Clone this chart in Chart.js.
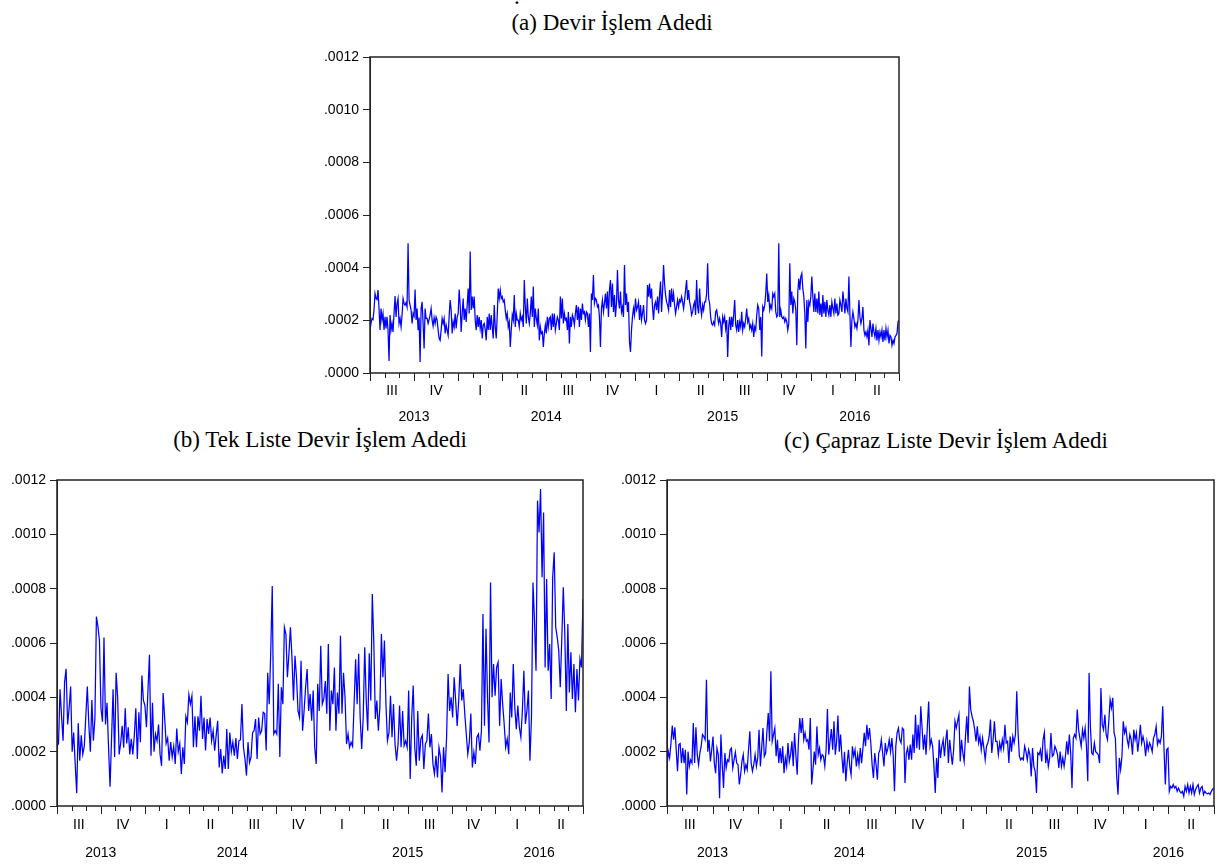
<!DOCTYPE html>
<html>
<head>
<meta charset="utf-8">
<script src="https://cdn.jsdelivr.net/npm/chart.js@4.4.1/dist/chart.umd.min.js"></script>
<style>
body { margin: 0; background: #fff; width: 1217px; height: 866px; position: relative; overflow: hidden; }
.box { position: absolute; }
.title { position: absolute; font-family: "Liberation Serif", "Times New Roman", serif; font-size: 23px; line-height: 23px; white-space: nowrap; transform: translateX(-50%); color: #000; }
</style>
</head>
<body>
<div class="title" style="left:514px;top:-15px;transform:none">.</div>
<div class="title" style="left:612px;top:11px">(a) Devir İşlem Adedi</div>
<div class="title" style="left:320px;top:428px">(b) Tek Liste Devir İşlem Adedi</div>
<div class="title" style="left:946px;top:429px">(c) Çapraz Liste Devir İşlem Adedi</div>

<div class="box" style="left:300px;top:40px;width:610px;height:390px"><canvas id="chartA"></canvas></div>
<div class="box" style="left:0px;top:462px;width:595px;height:410px"><canvas id="chartB"></canvas></div>
<div class="box" style="left:609px;top:462px;width:608px;height:410px"><canvas id="chartC"></canvas></div>

<script>
// values are in units of 0.0001, daily-ish readings from Jul 2013 to Jun 2016
var SCALE = 1e-4;

var quarterLabels = ['III', 'IV', 'I', 'II', 'III', 'IV', 'I', 'II', 'III', 'IV', 'I', 'II'];
var quarterYears = [2013, 2013, 2014, 2014, 2014, 2014, 2015, 2015, 2015, 2015, 2016, 2016];
var yearLabels = ['2013', '2014', '2015', '2016'];
var yTicks = [0, 0.0002, 0.0004, 0.0006, 0.0008, 0.0010, 0.0012];

// (a) Devir İşlem Adedi
var devirAdedi = [
  1.63,1.88,2.07,2.03,2.39,3.02,2.83,2.79,3.15,2.45,1.63,2.45,2.01,2.26,1.63,2.13,1.69,2.13,1.63,0.46,2.2,1.63,1.88,1.56,2.26,2.92,2.13,2.64,2.83,1.88,
  2.07,1.75,2.2,2.83,2.64,2.58,2.67,2.51,4.93,2.77,2.58,2.39,1.88,2.26,2.16,3.17,2.01,2.45,1.63,2.11,0.42,2.45,2.7,1.88,0.93,2.45,2.07,2.07,1.88,2.03,
  2.2,2.45,2.01,1.78,2.1,1.88,2.13,2.01,1.63,1.31,1.24,1.63,2.07,1.88,2.07,1.5,1.82,1.63,1.43,2.16,2.77,2.39,1.5,1.94,1.75,2.26,1.69,2.13,2.26,3.17,
  2.58,1.56,2.26,2.83,2.01,2.45,1.94,2.58,3.21,2.26,4.61,2.39,2.9,2.45,2.9,2.01,1.63,2.2,1.75,2.13,1.69,2.01,1.31,1.82,1.88,1.65,1.24,2.13,1.63,2.26,
  1.63,2.2,1.75,1.31,2.58,1.75,1.31,2.2,3.21,2.83,3.15,2.83,2.9,2.7,2.77,2.39,2.07,2.26,1.75,1.94,0.99,1.63,2.2,2.01,2.96,1.75,2.26,2.01,2.01,1.75,
  2.26,2.01,2.13,1.75,3.53,2.51,1.88,2.83,2.13,1.88,2.26,2.9,2.13,3.28,1.75,2.45,2.07,1.82,2.45,1.24,1.75,1.5,1.56,0.99,1.5,1.82,1.5,2.13,1.75,2.07,
  2.13,1.63,2.26,1.75,2.26,1.63,1.88,2.13,2.01,1.63,2.9,2.07,2.83,1.88,2.26,2.01,2.07,1.63,2.32,1.12,2.13,1.75,2.2,2.07,1.82,2.26,2.58,2.01,2.51,1.75,
  2.45,2.01,2.64,2.26,2.32,2.01,2.32,2.26,1.75,2.26,0.8,3.02,2.77,3.72,2.64,2.83,2.77,2.51,2.58,2.13,0.99,2.45,2.77,2.32,2.64,3.02,2.45,3.09,2.13,3.15,
  3.53,2.51,3.4,2.32,2.96,2.13,2.64,3.91,2.77,2.45,3.09,2.32,2.51,2.13,4.1,2.58,3.02,2.32,2.7,1.18,0.8,1.63,2.13,2.45,2.2,2.83,2.39,2.51,2.7,2.01,
  2.58,2.01,2.26,2.58,2.01,1.88,2.01,3.34,2.9,3.4,2.83,3.21,2.51,2.01,2.58,2.7,2.39,2.9,2.26,2.96,3.47,2.32,3.09,4.1,3.4,2.96,2.7,2.58,2.39,3.15,
  2.51,3.21,2.7,3.02,2.58,2.26,2.51,2.77,2.51,2.77,2.7,2.9,2.7,2.45,2.77,3.15,3.53,2.77,3.15,2.7,2.51,2.2,2.32,2.58,2.7,2.2,3.53,2.51,2.26,3.21,
  2.51,2.2,2.58,2.39,2.7,2.7,3.02,4.17,2.83,2.64,2.13,1.88,1.82,1.94,1.82,2.32,2.39,2.13,1.88,2.07,1.88,1.37,2.13,1.94,2.13,1.69,2.01,0.61,1.75,2.13,
  1.63,2.13,1.75,2.2,2.77,1.82,1.63,2.01,1.56,1.94,1.75,2.32,1.63,1.88,1.75,2.07,2.45,1.94,2.07,1.69,1.82,1.63,1.88,1.37,1.75,1.63,2.2,2.58,2.45,1.63,
  2.13,0.63,2.51,2.39,2.58,3.02,3.78,2.7,2.96,2.39,2.58,2.45,3.02,2.9,3.02,2.32,2.13,2.2,4.93,2.13,2.39,2.13,2.07,2.13,1.94,2.07,1.94,1.63,1.88,4.17,
  2.58,3.09,2.26,2.83,2.7,2.39,1.05,3.09,3.59,3.15,3.66,3.78,3.21,2.9,2.26,0.93,2.77,1.94,2.7,2.58,2.9,3.66,2.9,2.32,3.02,2.32,2.83,2.26,3.09,2.2,
  2.64,2.13,2.96,2.26,2.7,2.13,2.77,2.39,2.2,2.58,2.13,2.7,2.45,2.26,2.83,2.26,2.64,2.2,2.26,2.77,2.58,2.32,3.09,2.7,2.26,2.83,2.45,2.32,3.66,2.26,
  0.99,2.01,2.32,2.07,1.75,1.88,1.69,2.01,2.77,2.13,1.88,2.07,2.51,1.63,1.43,1.56,1.37,1.63,1.05,2.01,1.69,1.37,1.88,1.56,1.37,1.69,1.24,1.63,1.24,1.56,
  1.37,1.63,1.18,1.63,1.24,1.69,1.37,1.63,1.12,1.43,1.37,1.05,1.24,1.12,1.37,1.43,1.5,1.94,2.01
];

// (b) Tek Liste Devir İşlem Adedi
var tekListe = [
  2.2,2.3,4.3,3.3,2.4,4.55,5.05,3.0,3.6,4.4,2.0,2.7,1.55,0.47,3.05,1.67,2.6,1.9,2.2,3.3,4.4,3.0,2.0,3.9,2.4,3.2,6.97,6.6,6.1,3.6,
  3.1,6.2,3.0,3.8,2.15,0.71,2.5,4.3,1.8,4.9,4.0,1.9,2.3,2.95,2.15,3.6,2.3,2.9,1.9,2.47,1.9,2.6,3.6,1.73,3.45,2.35,4.8,3.9,3.7,2.9,
  4.25,5.57,1.85,3.8,2.0,2.65,2.4,3.0,1.9,1.48,4.16,3.26,2.3,2.5,1.67,2.35,1.8,2.2,1.55,2.85,2.0,2.3,1.18,2.16,1.55,3.3,3.08,4.1,3.75,4.05,
  2.16,3.3,2.16,3.3,2.77,4.06,2.47,3.26,2.04,3.2,2.65,3.26,2.4,2.77,2.04,2.6,3.14,1.42,2.1,1.2,1.85,1.36,2.83,1.36,2.7,2.0,2.35,1.85,2.5,1.73,
  2.4,2.43,3.75,2.16,1.73,1.12,2.35,1.6,1.8,2.7,2.77,3.2,1.73,3.26,2.65,2.77,3.45,3.4,2.04,4.9,3.75,5.65,8.1,2.65,2.77,2.65,4.5,1.8,4.37,3.75,
  6.58,6.33,4.74,5.6,6.58,5.47,3.88,5.53,4.74,3.5,3.26,5.35,2.77,3.5,4.37,5.04,3.5,4.12,3.14,4.25,2.16,1.55,4.5,3.5,5.9,3.75,
  3.94,4.6,3.4,5.96,2.77,4.25,3.75,5.1,2.77,4.18,3.4,6.27,3.4,4.9,4.0,2.28,2.65,2.16,2.35,2.2,3.75,5.4,3.75,5.6,3.26,2.1,3.26,5.84,3.88,2.77,
  5.62,3.88,7.8,6.02,3.2,3.88,2.77,3.63,6.33,4.74,6.09,3.75,2.4,2.7,4.06,2.53,3.75,2.28,1.67,2.28,3.7,2.16,3.5,2.22,2.4,2.16,4.25,0.99,3.26,4.43,
  2.16,1.48,3.5,1.67,2.47,2.6,1.36,2.28,2.4,3.4,2.16,2.65,1.55,1.18,1.85,1.05,2.16,1.8,0.5,2.16,1.24,2.53,4.86,3.5,4.0,3.26,4.74,3.88,2.95,3.88,
  5.23,3.88,4.3,3.4,2.65,1.91,2.34,3.4,1.42,1.98,1.55,2.53,2.65,2.04,2.77,7.07,2.95,6.52,4.0,2.34,8.23,4.0,5.23,4.06,5.1,5.29,2.95,4.67,3.75,3.02,
  2.16,2.47,1.91,4.18,3.26,5.23,3.63,2.83,3.7,2.9,2.53,3.5,4.98,3.02,3.5,4.25,1.67,3.26,8.23,6.82,4.98,11.24,10.07,11.67,8.42,10.8,5.1,8.36,4.98,5.96,
  3.94,8.42,9.34,6.58,6.21,5.72,4.37,6.15,8.05,6.33,3.5,6.7,4.18,5.66,3.94,5.23,3.45,5.04,3.88,5.41,5.1,7.62
];

// (c) Çapraz Liste Devir İşlem Adedi
var caprazListe = [
  1.46,2.0,1.77,2.3,2.96,2.44,2.9,2.07,1.28,2.26,2.3,1.58,2.13,1.58,2.07,0.42,2.0,1.46,1.7,1.58,3.05,1.58,2.9,1.89,1.52,1.95,2.2,2.63,2.56,2.44,
  4.65,2.0,2.44,1.64,2.07,2.56,1.58,1.21,2.13,1.89,0.29,2.63,1.52,0.66,1.95,1.4,1.7,1.64,2.07,2.13,1.4,1.7,1.98,1.58,1.52,0.79,1.15,1.64,1.89,1.28,
  1.52,1.34,2.07,2.75,1.58,1.28,1.52,1.89,1.46,1.77,2.81,1.46,2.13,2.87,1.83,1.95,2.75,3.42,2.38,4.96,2.38,2.63,2.87,1.83,2.44,1.58,2.13,1.58,2.2,1.21,
  1.77,1.46,2.32,1.64,1.89,2.38,1.46,2.69,1.89,1.15,2.44,3.24,2.69,3.24,2.44,2.69,2.38,2.44,2.07,3.24,0.79,1.34,2.0,1.52,2.93,1.89,2.13,1.7,1.89,1.83,
  1.46,2.07,3.57,1.89,2.38,2.83,2.07,3.12,1.89,2.38,3.33,2.0,2.63,1.83,1.21,2.0,0.91,1.58,2.07,1.46,1.15,2.2,1.83,2.07,1.46,1.89,1.52,2.13,1.58,2.13,
  2.69,2.2,2.99,2.44,2.87,2.32,1.52,1.03,1.95,1.52,0.97,1.95,2.07,2.44,1.95,1.46,2.32,1.95,2.13,2.44,2.0,2.5,1.89,0.54,2.2,2.69,2.87,2.44,2.32,2.87,
  2.81,0.85,1.95,2.13,1.7,2.26,1.7,2.63,1.95,3.36,2.13,2.99,2.07,3.67,2.87,2.07,2.63,1.89,2.93,3.85,2.2,2.44,2.2,1.46,0.48,1.77,1.03,2.44,1.77,2.2,2.44,
  1.83,2.44,2.81,1.58,2.44,1.95,1.52,2.07,3.12,2.87,3.12,3.36,1.64,2.44,1.95,1.64,2.56,3.3,2.32,4.4,3.55,3.3,3.12,2.81,2.38,2.93,2.32,2.56,2.07,2.5,
  2.13,1.7,2.2,2.32,2.56,3.18,1.95,2.44,3.12,2.38,2.38,1.89,2.32,2.07,2.44,2.13,2.99,2.32,2.38,1.58,2.56,2.0,2.56,2.32,2.63,4.22,2.69,1.83,1.7,1.77,
  1.7,2.2,2.0,1.7,2.07,1.89,1.09,2.13,1.46,1.28,0.48,1.95,1.89,2.07,1.64,2.44,2.71,1.58,1.95,1.46,1.77,2.69,1.83,1.89,2.2,2.07,1.89,1.4,2.0,1.46,
  1.77,1.46,1.83,2.38,1.89,2.63,1.95,0.66,2.5,2.63,2.5,3.55,2.81,2.5,2.2,2.81,2.5,2.87,2.2,0.91,4.9,2.93,1.95,1.89,2.32,2.0,1.95,1.89,1.58,4.34,
  2.99,2.81,3.36,2.63,2.44,3.12,3.91,3.61,3.98,2.69,2.5,1.09,0.42,1.77,1.34,1.83,3.12,2.69,2.87,2.44,2.2,2.63,2.44,1.89,2.81,2.44,2.69,2.0,2.44,2.99,
  2.32,2.56,2.32,1.83,2.38,2.07,2.32,2.2,2.0,2.5,2.63,2.93,2.26,2.44,2.32,2.56,3.67,2.07,0.79,2.07,2.13,0.54,0.72,0.66,0.79,0.66,0.72,0.54,0.66,0.54,
  0.48,0.54,0.36,0.72,0.54,0.79,0.48,0.72,0.48,0.79,0.42,0.6,0.72,0.79,0.48,0.66,0.72,0.42,0.54,0.48,0.45,0.48,0.42,0.54,0.63,0.66
];

var MONTHS = quarterLabels.length * 3;
Chart.defaults.font.family = '"Liberation Sans", Arial, sans-serif';
Chart.defaults.color = '#000';

function toPoints(series) {
    return series.map((v, i) => ({ x: i * MONTHS / (series.length - 1), y: v * SCALE }));
}

// box around the plot area plus month / quarter tick marks on the time axis
var framePlugin = {
    id: 'frame',
    afterDraw(chart) {
        var ctx = chart.ctx, a = chart.chartArea, xs = chart.scales.x;
        ctx.save();
        ctx.strokeStyle = '#222';
        ctx.lineWidth = 1.5;
        ctx.strokeRect(a.left, a.top, a.right - a.left, a.bottom - a.top);
        ctx.lineWidth = 1;
        for (var m = 0; m <= MONTHS; m++) {
            var px = Math.round(xs.getPixelForValue(m)) + 0.5;
            ctx.beginPath();
            ctx.moveTo(px, a.bottom);
            ctx.lineTo(px, a.bottom + (m % 3 === 0 ? 8 : 5));
            ctx.stroke();
        }
        ctx.restore();
    }
};

function makeChart(id, series, lay) {
    var ctx = document.getElementById(id).getContext('2d');
    return new Chart(ctx, {
        type: 'line',
        data: {
            datasets: [{
                data: toPoints(series),
                borderColor: '#0000ff',
                borderWidth: 1.25,
                pointRadius: 0,
                tension: 0
            }]
        },
        options: {
            animation: false,
            responsive: true,
            maintainAspectRatio: false,
            parsing: false,
            layout: { padding: { left: 0, right: lay.right, top: lay.top, bottom: lay.bottom } },
            plugins: { legend: { display: false }, tooltip: { enabled: false } },
            scales: {
                y: {
                    min: 0, max: 0.0012,
                    afterFit: s => { s.width = lay.yWidth; },
                    afterBuildTicks: s => { s.ticks = yTicks.map(v => ({ value: v })); },
                    ticks: {
                        font: { size: 14 }, padding: 4,
                        callback: v => v.toFixed(4).replace(/^0/, '')
                    },
                    grid: { drawOnChartArea: false, drawTicks: true, tickLength: 7, color: '#222' },
                    border: { display: true, color: '#222' }
                },
                x: {
                    type: 'linear', min: 0, max: MONTHS, weight: 0,
                    afterFit: s => { s.height = lay.qHeight; },
                    afterBuildTicks: s => { s.ticks = quarterLabels.map((q, k) => ({ value: 1.5 + 3 * k })); },
                    ticks: {
                        font: { size: 14 }, padding: lay.qPad, autoSkip: false, maxRotation: 0,
                        callback: (v, i) => quarterLabels[i]
                    },
                    grid: { display: false, drawTicks: false },
                    border: { display: false }
                },
                years: {
                    type: 'linear', position: 'bottom', min: 0, max: MONTHS, weight: 1,
                    afterFit: s => { s.height = lay.yrHeight; },
                    afterBuildTicks: s => {
                        s.ticks = yearLabels.map(y => {
                            var c = [];
                            quarterYears.forEach((qy, k) => { if (String(qy) === y) c.push(1.5 + 3 * k); });
                            return { value: c.reduce((p, q) => p + q, 0) / c.length };
                        });
                    },
                    ticks: {
                        font: { size: 14 }, padding: lay.yrPad, autoSkip: false, maxRotation: 0,
                        callback: (v, i) => yearLabels[i]
                    },
                    grid: { display: false, drawTicks: false },
                    border: { display: false }
                }
            }
        },
        plugins: [framePlugin]
    });
}

makeChart('chartA', devirAdedi, { yWidth: 70, right: 11, top: 17, bottom: 1, qHeight: 26, qPad: 10, yrHeight: 30, yrPad: 10 });
makeChart('chartB', tekListe, { yWidth: 57, right: 12, top: 18, bottom: 8, qHeight: 28, qPad: 11, yrHeight: 30, yrPad: 11 });
makeChart('chartC', caprazListe, { yWidth: 58, right: 3, top: 18, bottom: 8, qHeight: 28, qPad: 11, yrHeight: 30, yrPad: 11 });
</script>
</body>
</html>
